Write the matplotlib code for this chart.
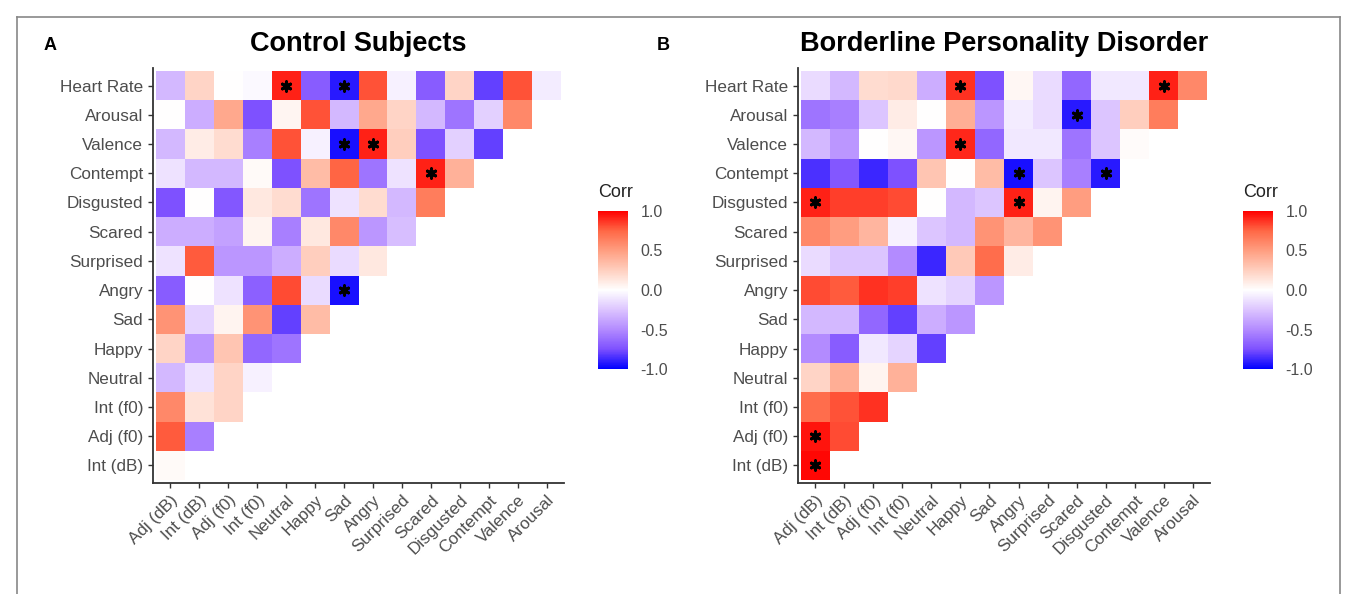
import numpy as np
import matplotlib.pyplot as plt
from matplotlib.colors import LinearSegmentedColormap
from matplotlib.lines import Line2D

plt.rcParams['font.family'] = ['Liberation Sans', 'DejaVu Sans']

# variables: filas de arriba a abajo, columnas de izquierda a derecha
filas = ['Heart Rate', 'Arousal', 'Valence', 'Contempt', 'Disgusted', 'Scared',
         'Surprised', 'Angry', 'Sad', 'Happy', 'Neutral', 'Int (f0)', 'Adj (f0)', 'Int (dB)']
columnas = ['Adj (dB)', 'Int (dB)', 'Adj (f0)', 'Int (f0)', 'Neutral', 'Happy', 'Sad',
            'Angry', 'Surprised', 'Scared', 'Disgusted', 'Contempt', 'Valence', 'Arousal']

# correlaciones (triangulo inferior)
control = [
    [-0.3, 0.22, 0.0, -0.03, 0.92, -0.7, -0.92, 0.8, -0.06, -0.7, 0.22, -0.8, 0.8, -0.08],
    [0.0, -0.35, 0.45, -0.75, 0.05, 0.8, -0.3, 0.45, 0.22, -0.3, -0.6, -0.2, 0.6],
    [-0.3, 0.1, 0.18, -0.55, 0.8, -0.06, -0.95, 0.92, 0.25, -0.75, -0.2, -0.8],
    [-0.12, -0.3, -0.3, 0.03, -0.75, 0.35, 0.75, -0.6, -0.12, 0.92, 0.4],
    [-0.75, 0.0, -0.72, 0.12, 0.18, -0.6, -0.12, 0.18, -0.3, 0.65],
    [-0.35, -0.35, -0.4, 0.06, -0.55, 0.12, 0.6, -0.45, -0.28],
    [-0.12, 0.78, -0.45, -0.45, -0.35, 0.25, -0.15, 0.12],
    [-0.7, 0.0, -0.12, -0.68, 0.82, -0.15, -0.95],
    [0.55, -0.18, 0.06, 0.55, -0.8, 0.35],
    [0.22, -0.45, 0.3, -0.65, -0.6],
    [-0.3, -0.12, 0.22, -0.06],
    [0.6, 0.15, 0.22],
    [0.78, -0.55],
    [0.03],
]
borderline = [
    [-0.15, -0.3, 0.18, 0.2, -0.35, 0.88, -0.75, 0.04, -0.15, -0.65, -0.1, -0.1, 0.92, 0.6],
    [-0.6, -0.55, -0.25, 0.1, 0.0, 0.42, -0.45, -0.08, -0.15, -0.92, -0.25, 0.25, 0.65],
    [-0.3, -0.45, 0.0, 0.04, -0.45, 0.9, -0.65, -0.1, -0.1, -0.6, -0.25, 0.02],
    [-0.85, -0.72, -0.88, -0.75, 0.3, 0.0, 0.35, -0.95, -0.25, -0.55, -0.92],
    [0.92, 0.85, 0.85, 0.82, 0.0, -0.3, -0.25, 0.92, 0.06, 0.5],
    [0.6, 0.5, 0.38, -0.06, -0.25, -0.3, 0.55, 0.38, 0.55],
    [-0.15, -0.25, -0.25, -0.5, -0.88, 0.28, 0.72, 0.1],
    [0.82, 0.78, 0.88, 0.85, -0.12, -0.18, -0.45],
    [-0.3, -0.3, -0.65, -0.8, -0.35, -0.45],
    [-0.5, -0.7, -0.1, -0.18, -0.8],
    [0.22, 0.42, 0.06, 0.4],
    [0.72, 0.8, 0.88],
    [0.95, 0.82],
    [0.98],
]

# celdas significativas (fila, columna)
sig_control = [('Heart Rate', 'Neutral'), ('Heart Rate', 'Sad'), ('Valence', 'Sad'),
               ('Valence', 'Angry'), ('Contempt', 'Scared'), ('Angry', 'Sad')]
sig_borderline = [('Heart Rate', 'Happy'), ('Heart Rate', 'Valence'), ('Arousal', 'Scared'),
                  ('Valence', 'Happy'), ('Contempt', 'Angry'), ('Contempt', 'Disgusted'),
                  ('Disgusted', 'Adj (dB)'), ('Disgusted', 'Angry'),
                  ('Adj (f0)', 'Adj (dB)'), ('Int (dB)', 'Adj (dB)')]

# gradiente azul-blanco-rojo (interpolado en Lab como ggplot)
cmap = LinearSegmentedColormap.from_list('corr', [
    '#0000ff', '#7e51ff', '#b38bff', '#dcc4ff', '#ffffff',
    '#ffcfbf', '#ff9e81', '#ff6846', '#ff0000'])

W, H = 1357, 594
fig = plt.figure(figsize=(W / 100, H / 100), dpi=100)

# marco gris
for xs, ys in [([17, 17], [0, 577]), ([17, 1340], [577, 577]), ([1340, 1340], [577, 0])]:
    fig.add_artist(Line2D(np.array(xs) / W, np.array(ys) / H, color='#888888', lw=1.2))

gris = '#4d4d4d'


def panel(x0, x1, datos, sig, titulo, letra, cbx):
    ax = fig.add_axes([x0 / W, (H - 483) / H, (x1 - x0) / W, (483 - 68) / H])
    n = len(filas)
    M = np.full((n, n), np.nan)
    for i, fila in enumerate(datos):
        M[i, :len(fila)] = fila
    Mm = np.ma.masked_invalid(M)
    im = ax.pcolormesh(np.arange(n + 1) - 0.5, np.arange(n + 1) - 0.5, Mm,
                       cmap=cmap, vmin=-1, vmax=1)
    for f, c in sig:
        ax.scatter(columnas.index(c), filas.index(f), marker=(6, 2, 0), s=45,
                   color='black', linewidths=2.2, zorder=3)
    ax.set_xlim(-0.6, n - 0.4)
    ax.set_ylim(n - 0.4, -0.6)
    ax.set_xticks(range(n))
    ax.set_xticklabels(columnas, rotation=45, ha='right', rotation_mode='anchor')
    ax.set_yticks(range(n))
    ax.set_yticklabels(filas)
    ax.tick_params(colors='#333333', labelcolor=gris, labelsize=12.3, length=3.5, width=1)
    for s in ['top', 'right']:
        ax.spines[s].set_visible(False)
    for s in ['left', 'bottom']:
        ax.spines[s].set_color('#333333')
        ax.spines[s].set_linewidth(1.3)
    ax.set_title(titulo, fontsize=19.5, fontweight='bold', pad=12)
    fig.text(letra[1] / W, 1 - 45 / H, letra[0], fontsize=13, fontweight='bold',
             ha='left', va='center')

    cax = fig.add_axes([cbx / W, (H - 369) / H, 30 / W, 158 / H])
    cb = fig.colorbar(im, cax=cax, ticks=[-1, -0.5, 0, 0.5, 1])
    cb.outline.set_visible(False)
    cb.ax.set_yticklabels(['-1.0', '-0.5', '0.0', '0.5', '1.0'])
    cb.ax.tick_params(length=0, labelcolor=gris, labelsize=11.5, pad=9)
    fig.text(cbx / W, 1 - 192 / H, 'Corr', fontsize=13, color='#222222', ha='left', va='center')


panel(153, 564, control, sig_control, 'Control Subjects', ('A', 44), 598)
panel(798, 1210, borderline, sig_borderline, 'Borderline Personality Disorder', ('B', 657), 1243)

plt.savefig('out.png', dpi=100)
